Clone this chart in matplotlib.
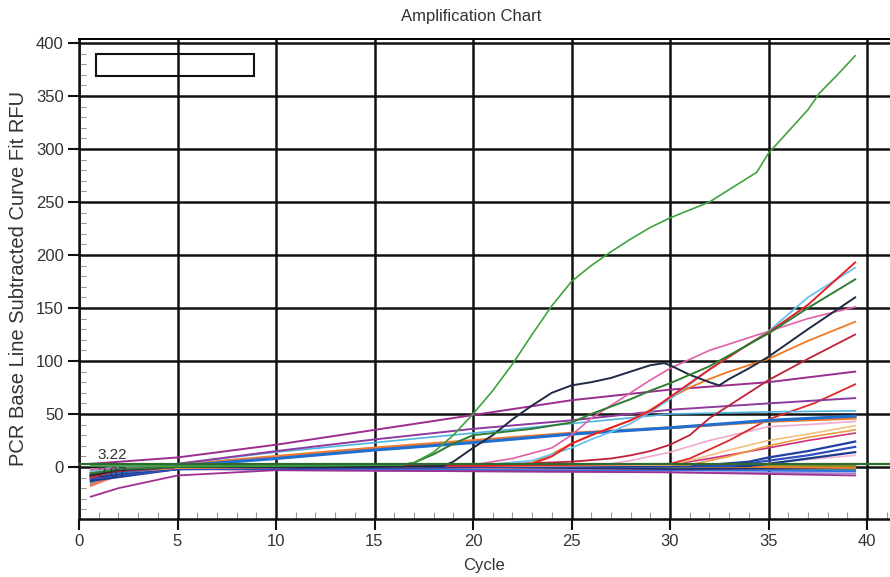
import matplotlib
matplotlib.use("Agg")
import matplotlib.pyplot as plt
from matplotlib.ticker import MultipleLocator
from matplotlib.patches import Rectangle

plt.rcParams['font.family'] = ['Liberation Sans', 'DejaVu Sans']

# ---------------- data (cycle knots, RFU values) ----------------
green_cyc = [0.6, 5, 10, 16.4, 17, 18, 19, 20, 21, 22, 23, 24, 25, 26, 27, 28, 29, 30, 32, 34.4, 35, 37, 37.6, 38.5, 39.4]
green_rfu = [1, 1, 1, 2, 4, 14, 30, 50, 72, 97, 125, 152, 175, 190, 203, 215, 226, 235, 250, 278, 296, 337, 353, 370, 388]

dkgreen_cyc = [0.6, 2, 5, 10, 16.4, 17, 18, 19, 20, 21, 22, 23, 24, 25, 26, 27, 28, 29, 30, 32, 35, 37, 39.4]
dkgreen_rfu = [-6, -2, 0, 1, 2, 4, 12, 22, 30, 32, 34, 36, 39, 42, 50, 57, 64, 72, 79, 95, 126, 150, 177]

navy_cyc = [0.6, 2, 5, 10, 15, 18.5, 19, 20, 21, 22, 23, 24, 25, 26, 27, 28, 29, 29.7, 30, 31, 32, 32.5, 33, 34, 35, 37, 39.4]
navy_rfu = [-8, -3, 0, 0, 0, 1, 5, 18, 30, 45, 58, 70, 77, 80, 84, 90, 96, 98, 96, 87, 80, 77, 83, 93, 104, 130, 160]

red_cyc = [0.6, 2, 5, 10, 20, 22.5, 23, 24, 25, 26, 27, 28, 29, 30, 31, 32, 33, 34, 35, 37, 39.4]
red_rfu = [-10, -3, 0, 1, 1, 2, 3, 10, 22, 30, 37, 44, 53, 66, 79, 92, 104, 116, 127, 153, 193]

ltblue_cyc = [0.6, 5, 20, 23, 24, 25, 26, 27, 28, 29, 30, 32, 35, 37, 39.4]
ltblue_rfu = [-4, 0, 1, 6, 12, 18, 26, 33, 41, 52, 64, 92, 128, 160, 188]

pink_cyc = [0.6, 5, 20, 22, 24, 25, 26, 27, 28, 29, 30, 32, 35, 37, 39.4]
pink_rfu = [-2, 0, 2, 8, 18, 30, 46, 58, 70, 82, 93, 110, 128, 140, 151]

orange_cyc = [0.6, 5, 20, 22.5, 23, 24, 25, 26, 27, 28, 29, 30, 31, 32, 33, 34, 35, 37, 39.4]
orange_rfu = [-3, 0, 1, 2, 4, 12, 22, 30, 37, 44, 54, 65, 75, 83, 90, 96, 102, 119, 137]

crimson_cyc = [0.6, 5, 20, 22, 25, 27, 28, 29, 30, 31, 32, 33, 34, 35, 37, 39.4]
crimson_rfu = [-6, 0, 1, 3, 5, 8, 11, 15, 21, 30, 46, 58, 70, 82, 102, 125]

purpleA_cyc = [0.6, 5, 10, 15, 20, 25, 30, 35, 39.4]
purpleA_rfu = [3, 9, 21, 35, 49, 63, 73, 80, 90]

purpleB_cyc = [0.6, 3.6, 5, 10, 15, 20, 25, 30, 35, 39.4]
purpleB_rfu = [-4, -1, 3, 15, 26, 36, 44, 54, 60, 65]

cyan_cyc = [0.6, 5, 10, 15, 20, 25, 30, 35, 39.4]
cyan_rfu = [-2, 3, 14, 23, 32, 41, 50, 52, 53]

bluethick_cyc = [0.6, 5, 10, 15, 20, 25, 30, 35, 39.4]
bluethick_rfu = [-8, 1, 8, 16, 23, 31, 37, 44, 48]

orangethick_cyc = [0.6, 5, 10, 15, 20, 25, 30, 35, 39.4]
orangethick_rfu = [-6, 2, 10, 18, 25, 32, 37, 43, 46]

reddash_cyc = [0.6, 5, 20, 30, 31, 33, 35, 37.3, 39.4]
reddash_rfu = [-4, 0, 1, 3, 8, 25, 45, 60, 78]

ltpink_cyc = [0.6, 5, 20, 27, 28, 30, 32, 35, 37, 39.4]
ltpink_rfu = [-3, 0, 1, 3, 6, 14, 25, 38, 40, 43]

peach_cyc = [0.6, 5, 20, 30, 31.4, 33, 35, 37, 39.4]
peach_rfu = [-5, 0, 1, 2, 8, 16, 25, 31, 39]

tan_cyc = [0.6, 5, 20, 31, 33, 35, 37, 39.4]
tan_rfu = [-7, -1, 1, 2, 10, 20, 28, 35]

magenta_cyc = [0.6, 5, 20, 30, 32, 35, 37, 39.4]
magenta_rfu = [-7, -1, 1, 2, 8, 18, 25, 32]

navy2_cyc = [0.6, 5, 20, 30, 32, 34, 35, 37, 39.4]
navy2_rfu = [-9, -1, 0, 1, 2, 5, 9, 15, 24]

blue2_cyc = [0.6, 5, 20, 33, 35, 37, 39.4]
blue2_rfu = [-11, -2, 0, 1, 6, 11, 19]

blue3_cyc = [0.6, 5, 20, 34, 35, 37, 39.4]
blue3_rfu = [-13, -2, 0, 1, 3, 8, 14]

palepink_cyc = [0.6, 5, 20, 34, 39.4]
palepink_rfu = [-8, -1, 0, 2, 11]

base_cyc = [0.6, 2, 5, 10, 20, 30, 39.4]
base_red = [-12, -5, -1, 1, 0, -1, -2]
base_yellow = [-10, -4, 0, 1, 0, 1, 2]
base_grey = [-14, -5, -1, 0, -1, 0, 1]
base_teal = [-15, -6, -2, -1, -2, -2, -3]
base_green = [-11, -4, 0, 2, 2, 3, 2]
base_lilac = [-16, -6, -2, -3, -4, -5, -6]
base_blue = [-13, -5, -1, -2, -3, -3, -4]
base_plum = [-28, -20, -8, -3, -4, -5, -8]
base_rose = [-18, -8, -2, 0, -1, -2, -1]
base_olive = [-9, -3, 0, 1, 1, 0, 1]
base_navy = [-12, -4, -1, 0, 0, -2, -1]
base_orange = [-17, -7, -1, 0, 0, 1, -1]

thresholds = [3.22, 2.87]
threshold_labels = ["3.22", "2.87"]

x_ticks = [0, 5, 10, 15, 20, 25, 30, 35, 40]
y_ticks = [0, 50, 100, 150, 200, 250, 300, 350, 400]

# ---------------- figure ----------------
W, H = 890, 577
fig = plt.figure(figsize=(W / 100, H / 100), dpi=100)
left_px, right_px, top_px, bottom_px = 79, 890, 39, 519
ax = fig.add_axes([left_px / W, 1 - bottom_px / H, (right_px - left_px) / W, (bottom_px - top_px) / H])

px_per_cycle = 19.7
px_per_unit = 1.06
zero_px = 467
ax.set_xlim(0, (right_px - left_px) / px_per_cycle)
ax.set_ylim(-(bottom_px - zero_px) / px_per_unit, (zero_px - top_px) / px_per_unit)

ax.set_xticks(x_ticks)
ax.set_yticks(y_ticks)
ax.xaxis.set_minor_locator(MultipleLocator(1))
ax.yaxis.set_minor_locator(MultipleLocator(10))
ax.grid(True, which='major', color='#111111', lw=1.8, zorder=1)
ax.set_axisbelow(True)
ax.tick_params(which='major', direction='out', length=8, width=1.5, color='#111111',
               labelsize=12, labelcolor='#333333', pad=3)
ax.tick_params(which='minor', direction='in', length=5, width=0.8, color='#999999')
for s in ['left', 'bottom']:
    ax.spines[s].set_linewidth(1.8)
    ax.spines[s].set_color('#111111')
ax.spines['top'].set_linewidth(1.4)
ax.spines['right'].set_visible(False)

baseline = [
    (base_red, '#e03030'), (base_yellow, '#e0c030'), (base_grey, '#909090'),
    (base_teal, '#20a0a0'), (base_green, '#30a030'), (base_lilac, '#a080d0'),
    (base_blue, '#3070e0'), (base_plum, '#a03090'), (base_rose, '#e080b0'),
    (base_olive, '#909020'), (base_navy, '#203070'), (base_orange, '#f08030'),
]
for vals, c in baseline:
    ax.plot(base_cyc, vals, color=c, lw=1.3, zorder=3)

traces = [
    (palepink_cyc, palepink_rfu, '#f4b8d4', 1.2),
    (blue3_cyc, blue3_rfu, '#1a3a8a', 1.6),
    (blue2_cyc, blue2_rfu, '#3050c0', 1.6),
    (navy2_cyc, navy2_rfu, '#2040a0', 1.6),
    (magenta_cyc, magenta_rfu, '#d0307a', 1.2),
    (tan_cyc, tan_rfu, '#f09a40', 1.2),
    (peach_cyc, peach_rfu, '#f4c080', 1.2),
    (ltpink_cyc, ltpink_rfu, '#f0a8cc', 1.2),
    (reddash_cyc, reddash_rfu, '#e02828', 1.3),
    (orangethick_cyc, orangethick_rfu, '#f07a30', 2.0),
    (bluethick_cyc, bluethick_rfu, '#1f6fd0', 2.2),
    (cyan_cyc, cyan_rfu, '#4fb3e0', 1.2),
    (purpleB_cyc, purpleB_rfu, '#8e3a9e', 1.4),
    (purpleA_cyc, purpleA_rfu, '#9b2d8f', 1.4),
    (crimson_cyc, crimson_rfu, '#c0203a', 1.3),
    (orange_cyc, orange_rfu, '#f07820', 1.3),
    (pink_cyc, pink_rfu, '#e060a8', 1.2),
    (ltblue_cyc, ltblue_rfu, '#6ec0ee', 1.3),
    (red_cyc, red_rfu, '#e8202a', 1.4),
    (navy_cyc, navy_rfu, '#1f2a44', 1.4),
    (dkgreen_cyc, dkgreen_rfu, '#2e7d32', 1.4),
    (green_cyc, green_rfu, '#3fa33f', 1.2),
]
for xs, ys, c, lw in traces:
    ax.plot(xs, ys, color=c, lw=lw, zorder=4)

# threshold labels
ax.text(0.95, thresholds[0] + 8, threshold_labels[0], fontsize=11, color='#333333',
        ha='left', va='center', zorder=4.5)
ax.text(0.95, thresholds[1] - 9, threshold_labels[1], fontsize=11, color='#333333',
        ha='left', va='center', zorder=4.5, alpha=0.85)

ax.axhline(thresholds[0], color='#2e6b2e', lw=1.6, zorder=5)

# empty legend box
ax.add_patch(Rectangle((0.86, 369), 8.04, 21, fill=False, edgecolor='#111111', lw=1.5, zorder=6))

ax.set_xlabel('Cycle', fontsize=12, color='#333333', labelpad=6)
ax.set_ylabel('PCR Base Line Subtracted Curve Fit RFU', fontsize=14.5, color='#333333', labelpad=6)
fig.text(471 / W, 1 - 17 / H, 'Amplification Chart', fontsize=12, color='#333333',
         ha='center', va='center')

fig.savefig('out.png', dpi=100)
